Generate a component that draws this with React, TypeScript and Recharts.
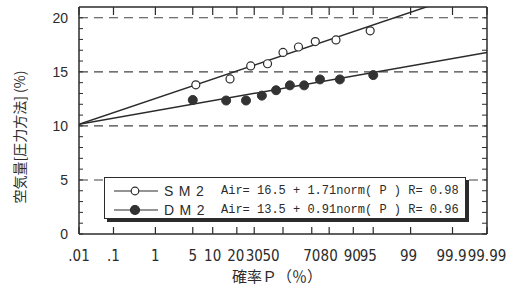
import React from 'react'
import { ComposedChart, Line, Scatter, XAxis, YAxis, ReferenceLine, Legend } from 'recharts'

// probability axis ticks (%)
const tickProbs = [0.01, 0.1, 1, 5, 10, 20, 30, 50, 70, 80, 90, 95, 99, 99.9, 99.99]
const tickLabels = ['.01', '.1', '1', '5', '10', '20', '30', '50', '70', '80', '90', '95', '99', '99.9', '99.99']
const yTicks = [0, 1, 2, 3, 4, 5, 6, 7, 8, 9, 10, 11, 12, 13, 14, 15, 16, 17, 18, 19, 20]
const gridValues = [5, 10, 15, 20]

// measured points
const sm2Probs = [5.6, 16.7, 27.8, 38.9, 50, 61.1, 72.2, 83.3, 94.4]
const sm2Values = [13.8, 14.35, 15.55, 15.75, 16.8, 17.3, 17.8, 17.95, 18.8]
const dm2Probs = [5, 15, 25, 35, 45, 55, 65, 75, 85, 95]
const dm2Values = [12.4, 12.35, 12.35, 12.8, 13.3, 13.75, 13.75, 14.3, 14.3, 14.7]

// fitted lines, read at both ends of the axis
const fitProbs = [0.01, 99.99]
const sm2Fit = [10.15, 22.9]
const dm2Fit = [10.15, 16.8]

const sm2Label = 'Air= 16.5 + 1.71norm( P ) R= 0.98'
const dm2Label = 'Air= 13.5 + 0.91norm( P ) R= 0.96'

const INK = '#2b2b2b'
const SANS = '"Liberation Sans", Arial, sans-serif'
const NARROW = '"Liberation Sans Narrow", "DejaVu Sans Condensed", "Liberation Sans", sans-serif'
const MONO = '"Liberation Mono", "DejaVu Sans Mono", monospace'
const CJK = '"Noto Sans CJK JP", "Noto Sans", sans-serif'

// inverse normal CDF (Acklam), p in percent -> z
function probit(pct: number) {
  const p = pct / 100
  const a = [-39.69683028665376, 220.9460984245205, -275.9285104469687, 138.357751867269, -30.66479806614716, 2.506628277459239]
  const b = [-54.47609879822406, 161.5858368580409, -155.6989798598866, 66.80131188771972, -13.28068155288572]
  const c = [-0.007784894002430293, -0.3223964580411365, -2.400758277161838, -2.549732539343734, 4.374664141464968, 2.938163982698783]
  const d = [0.007784695709041462, 0.3224671290700398, 2.445134137142996, 3.754408661907416]
  const pl = 0.02425
  if (p < pl) {
    const q = Math.sqrt(-2 * Math.log(p))
    return (((((c[0] * q + c[1]) * q + c[2]) * q + c[3]) * q + c[4]) * q + c[5]) / ((((d[0] * q + d[1]) * q + d[2]) * q + d[3]) * q + 1)
  }
  if (p > 1 - pl) {
    const q = Math.sqrt(-2 * Math.log(1 - p))
    return -(((((c[0] * q + c[1]) * q + c[2]) * q + c[3]) * q + c[4]) * q + c[5]) / ((((d[0] * q + d[1]) * q + d[2]) * q + d[3]) * q + 1)
  }
  const q = p - 0.5
  const r = q * q
  return (((((a[0] * r + a[1]) * r + a[2]) * r + a[3]) * r + a[4]) * r + a[5]) * q / (((((b[0] * r + b[1]) * r + b[2]) * r + b[3]) * r + b[4]) * r + 1)
}

const toRows = (probs: number[], vals: number[]) => probs.map((p, i) => ({ z: probit(p), v: vals[i] }))

const xTicks = tickProbs.map(probit)
const xMin = probit(0.01)
const xMax = probit(99.99)

const sm2Data = toRows(sm2Probs, sm2Values)
const dm2Data = toRows(dm2Probs, dm2Values)
const sm2Line = toRows(fitProbs, sm2Fit)
const dm2Line = toRows(fitProbs, dm2Fit)

// small label nudges seen in the original print
const NUDGE: Record<string, number> = { '20': -1, '50': -12, '90': -1, '95': -5, '99': -2, '99.9': -1 }

const BottomTick = (props: any) => {
  const { x, y, index } = props
  const label = tickLabels[index]
  return (
    <g>
      <line x1={x} x2={x} y1={y} y2={y - 7} stroke={INK} strokeWidth={1.2} />
      <text x={x + (NUDGE[label] || 0)} y={y + 27} textAnchor="middle" fontSize={15} fontFamily={NARROW} fill={INK}>
        {label}
      </text>
    </g>
  )
}

const TopTick = (props: any) => {
  const { x, y } = props
  return <line x1={x} x2={x} y1={y} y2={y + 8} stroke={INK} strokeWidth={1.2} />
}

const LeftTick = (props: any) => {
  const { x, y, payload } = props
  const v = payload.value
  return (
    <g>
      <line x1={x} x2={x + 4} y1={y} y2={y} stroke={INK} strokeWidth={1} />
      {v % 5 === 0 && (
        <text x={x - 11} y={y + 5} textAnchor="end" fontSize={14} fontFamily={SANS} fill={INK}>
          {v}
        </text>
      )}
    </g>
  )
}

const RightTick = (props: any) => {
  const { x, y } = props
  return <line x1={x} x2={x - 5} y1={y} y2={y} stroke={INK} strokeWidth={1} />
}

const OpenDot = (p: any) => <circle cx={p.cx} cy={p.cy} r={4} fill="#fff" stroke={INK} strokeWidth={1.2} />
const FilledDot = (p: any) => <circle cx={p.cx} cy={p.cy} r={4.5} fill="#333" stroke="#333" />

const LegendBox = () => {
  const row = (name: string, text: string, filled: boolean) => (
    <div style={{ display: 'flex', alignItems: 'center', height: 18.5 }}>
      <svg width={46} height={12} style={{ marginLeft: 8 }}>
        <line x1={1} x2={45} y1={6} y2={6} stroke={INK} strokeWidth={1.2} />
        <circle cx={22} cy={6} r={filled ? 4.5 : 3.8} fill={filled ? '#333' : '#fff'} stroke={INK} strokeWidth={1.2} />
      </svg>
      <span style={{ fontFamily: SANS, fontSize: 14, letterSpacing: 5.5, marginLeft: 5, width: 57, color: INK }}>{name}</span>
      <span style={{ fontFamily: MONO, fontSize: 12, whiteSpace: 'pre', color: INK }}>{text}</span>
    </div>
  )
  return (
    <div
      style={{
        width: 362,
        height: 42,
        border: `1px solid ${INK}`,
        boxShadow: `3px 3px 0 ${INK}`,
        background: '#fff',
        paddingTop: 4,
        boxSizing: 'border-box',
      }}
    >
      {row('SM2', sm2Label, false)}
      {row('DM2', dm2Label, true)}
    </div>
  )
}

export default function App() {
  return (
    <div style={{ position: 'absolute', left: 0, top: 0, width: 517, height: 286, background: '#fff' }}>
      <ComposedChart width={517} height={286} margin={{ top: 6, right: 29, left: 19, bottom: 12 }}>
        <XAxis
          xAxisId="b"
          dataKey="z"
          type="number"
          domain={[xMin, xMax]}
          allowDataOverflow
          ticks={xTicks}
          interval={0}
          tickSize={0}
          tickMargin={0}
          tick={BottomTick}
          tickLine={false}
          axisLine={{ stroke: INK, strokeWidth: 1.5 }}
          height={40}
          label={() => (
            <text x={277} y={282} textAnchor="middle" fontSize={15} fontFamily={CJK} fill={INK}>
              確率Ｐ（％）
            </text>
          )}
        />
        <XAxis
          xAxisId="t"
          orientation="top"
          dataKey="z"
          type="number"
          domain={[xMin, xMax]}
          allowDataOverflow
          ticks={xTicks}
          interval={0}
          tickSize={0}
          tickMargin={0}
          tick={TopTick}
          tickLine={false}
          axisLine={{ stroke: INK, strokeWidth: 1.5 }}
          height={1}
        />
        <YAxis
          yAxisId="l"
          dataKey="v"
          type="number"
          domain={[0, 21]}
          allowDataOverflow
          ticks={yTicks}
          interval={0}
          tickSize={0}
          tickMargin={0}
          tick={LeftTick}
          tickLine={false}
          axisLine={{ stroke: INK, strokeWidth: 1.5 }}
          width={60}
          label={() => (
            <text
              x={0}
              y={0}
              transform="translate(21 137) rotate(-90)"
              textAnchor="middle"
              dominantBaseline="middle"
              fontSize={14}
              fontFamily={CJK}
              fill={INK}
            >
              空気量[圧力方法] (%)
            </text>
          )}
        />
        <YAxis
          yAxisId="r"
          orientation="right"
          type="number"
          domain={[0, 21]}
          allowDataOverflow
          ticks={yTicks}
          interval={0}
          tickSize={0}
          tickMargin={0}
          tick={RightTick}
          tickLine={false}
          axisLine={{ stroke: INK, strokeWidth: 1.5 }}
          width={1}
        />
        {gridValues.map((g) => (
          <ReferenceLine key={g} xAxisId="b" yAxisId="l" y={g} stroke="#444" strokeWidth={1.1} strokeDasharray="9 6" />
        ))}
        <Line xAxisId="b" yAxisId="l" data={sm2Line} dataKey="v" stroke={INK} strokeWidth={1.5} dot={false} isAnimationActive={false} />
        <Line xAxisId="b" yAxisId="l" data={dm2Line} dataKey="v" stroke={INK} strokeWidth={1.5} dot={false} isAnimationActive={false} />
        <Scatter xAxisId="b" yAxisId="l" name="SM2" data={sm2Data} dataKey="v" shape={OpenDot} isAnimationActive={false} />
        <Scatter xAxisId="b" yAxisId="l" name="DM2" data={dm2Data} dataKey="v" shape={FilledDot} isAnimationActive={false} />
        <Legend
          layout="horizontal"
          verticalAlign="middle"
          content={() => <LegendBox />}
          wrapperStyle={{ left: 104, top: 177, width: 368, height: 46 }}
        />
      </ComposedChart>
    </div>
  )
}
